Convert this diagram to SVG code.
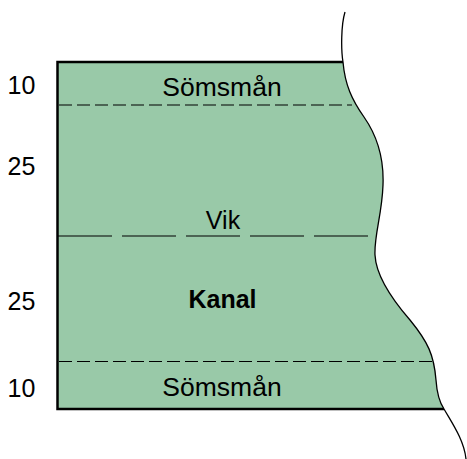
<svg xmlns="http://www.w3.org/2000/svg" width="467" height="459" viewBox="0 0 467 459">
<style>
text{font-family:"Liberation Sans",Arial,sans-serif;font-size:25px;fill:#000}
.lbl{text-anchor:middle}
.s{font-size:26.5px}
.b{font-weight:bold}
.edge{stroke:#000;stroke-width:2.5;fill:none}
.curve{stroke:#000;stroke-width:1.3;fill:none}
.fine{stroke:#000;stroke-width:1.2;stroke-dasharray:13 5;fill:none}
.vik{stroke:#000;stroke-width:1.2;stroke-dasharray:54 10;fill:none}
</style>
<rect width="467" height="459" fill="#fff"/>
<g id="fabric">
<path d="M57.5,62 L343,62 C345,85 352,100 364,117 C378,137 384,160 383,185 C382,215 374,235 375,255 C376,275 390,297 410,320 C428,342 434,355 436,380 C437,395 440,403 444,409 L57.5,409 Z" fill="#99c9a8"/>
<path class="edge" d="M343,62 L57.5,62 L57.5,409 L444,409"/>
<path class="curve" d="M345,12 C341,25 341,50 343,62 C345,85 352,100 364,117 C378,137 384,160 383,185 C382,215 374,235 375,255 C376,275 390,297 410,320 C428,342 434,355 436,380 C437,395 440,403 444,409 C452,423 464,440 466,459"/>
</g>
<g id="lines">
<line class="fine" x1="59" y1="105" x2="352" y2="105"/>
<line class="vik" x1="58" y1="236" x2="368" y2="236"/>
<line class="fine" x1="59" y1="361.5" x2="433" y2="361.5"/>
</g>
<g id="labels">
<text class="lbl s" x="222" y="95.5">Sömsmån</text>
<text class="lbl" x="223" y="229">Vik</text>
<text class="lbl b" x="222.5" y="308">Kanal</text>
<text class="lbl s" x="222" y="395.5">Sömsmån</text>
</g>
<g id="numbers">
<text x="7.5" y="94">10</text>
<text x="7.5" y="175">25</text>
<text x="7.5" y="310">25</text>
<text x="7.5" y="396.5">10</text>
</g>
</svg>
